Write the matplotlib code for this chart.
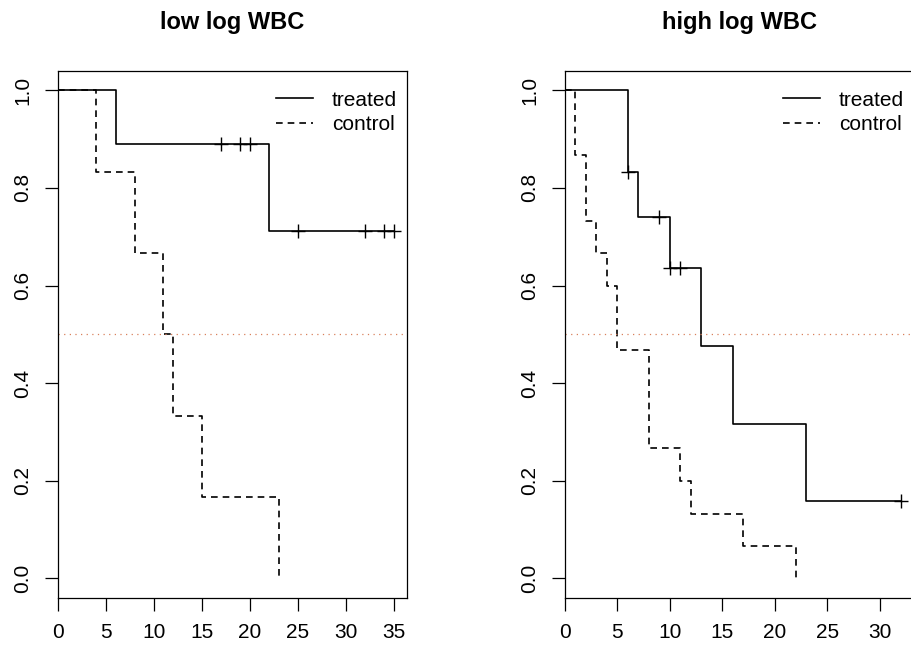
import numpy as np
import matplotlib
matplotlib.use("Agg")
import matplotlib.pyplot as plt

plt.rcParams['font.family'] = ['Liberation Sans', 'DejaVu Sans']

# low log WBC: Kaplan-Meier steps (time, survival) and censoring times
low_trt_time = [0, 6, 22, 35]
low_trt_surv = [1.0, 0.889, 0.711, 0.711]
low_trt_cens = [17, 19, 20, 25, 32, 34, 35]
low_ctl_time = [0, 4, 8, 11, 12, 15, 23]
low_ctl_surv = [1.0, 0.833, 0.667, 0.5, 0.333, 0.167, 0.0]

# high log WBC
high_trt_time = [0, 6, 7, 10, 13, 16, 23, 32]
high_trt_surv = [1.0, 0.833, 0.741, 0.635, 0.476, 0.317, 0.159, 0.159]
high_trt_cens = [6, 9, 10, 11, 32]
high_ctl_time = [0, 1, 2, 3, 4, 5, 8, 11, 12, 17, 22]
high_ctl_surv = [1.0, 0.867, 0.733, 0.667, 0.6, 0.467, 0.267, 0.2, 0.133, 0.067, 0.0]

titles = ['low log WBC', 'high log WBC']
labels = ['treated', 'control']
x_max = [36.4, 33.28]


def surv_at(times, surv, t):
    idx = np.searchsorted(times, t, side='right') - 1
    return np.asarray(surv)[idx]


fig = plt.figure(figsize=(9.12, 6.48), dpi=100)
ax1 = fig.add_axes([58 / 912, 50 / 648, 349 / 912, 527.3 / 648])
ax2 = fig.add_axes([565 / 912, 50 / 648, 349 / 912, 527.3 / 648])

panels = [
    (ax1, low_trt_time, low_trt_surv, low_trt_cens, low_ctl_time, low_ctl_surv),
    (ax2, high_trt_time, high_trt_surv, high_trt_cens, high_ctl_time, high_ctl_surv),
]

for i, (ax, tt, ts, tc, ct, cs) in enumerate(panels):
    ax.step(tt, ts, where='post', color='black', lw=1.2, label=labels[0])
    ax.step(ct, cs, where='post', color='black', lw=1.2,
            linestyle=(0, (4, 3)), label=labels[1])
    ax.plot(tc, surv_at(tt, ts, tc), linestyle='none', marker='+',
            markersize=10, mew=1.0, color='black')
    ax.axhline(0.5, color='#d9805c', lw=0.9, linestyle=(0, (1, 3.5)))

    ax.set_xlim(0, x_max[i])
    ax.set_ylim(-0.04, 1.04)
    ax.set_xticks(np.arange(0, x_max[i], 5))
    ax.set_yticks([0.0, 0.2, 0.4, 0.6, 0.8, 1.0])
    ax.set_yticklabels(['0.0', '0.2', '0.4', '0.6', '0.8', '1.0'],
                       rotation=90, va='center')
    ax.tick_params(axis='both', direction='out', length=9.5, width=0.9,
                   labelsize=15)
    ax.tick_params(axis='x', pad=8.5)
    ax.tick_params(axis='y', pad=9)
    for sp in ax.spines.values():
        sp.set_linewidth(0.9)
    ax.set_title(titles[i], fontsize=17, fontweight='bold', pad=30)
    ax.legend(loc='upper right', bbox_to_anchor=(0.971, 0.962),
              borderaxespad=0, borderpad=0, frameon=False, fontsize=15,
              handlelength=1.8, handletextpad=0.9, labelspacing=0.25)

fig.savefig('out.png', dpi=100)
